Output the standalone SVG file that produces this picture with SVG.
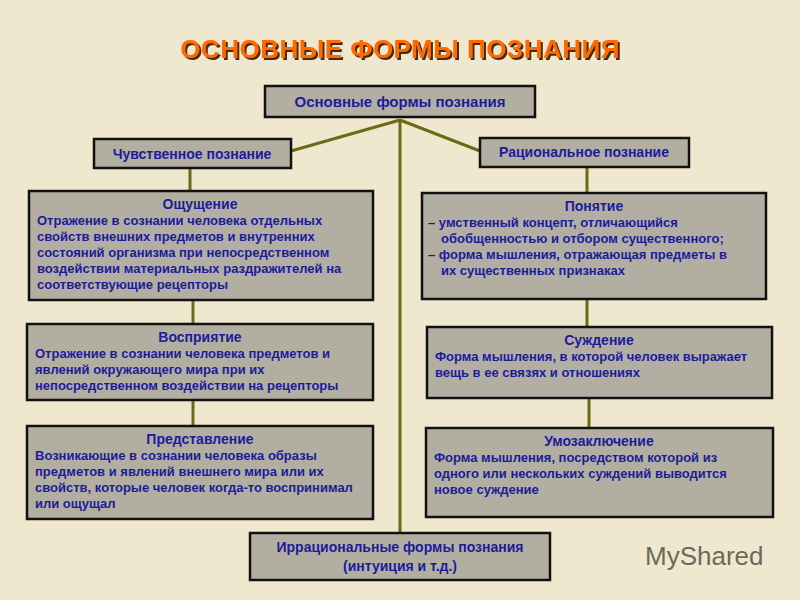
<svg xmlns="http://www.w3.org/2000/svg" width="800" height="600" viewBox="0 0 800 600">
<defs>
<filter id="sh" x="-10%" y="-30%" width="120%" height="160%"><feDropShadow dx="2" dy="2" stdDeviation="0.5" flood-color="#4a2a10"/></filter>
</defs>
<style>
.box{fill:#b2aea2;stroke:#111;stroke-width:2.5}
.t{font-family:"Liberation Sans",Arial,sans-serif;font-weight:bold;fill:#1c1c9a}
.h{font-size:14px}
.s{font-size:13px}
.c{stroke:#6b6b16;stroke-width:3;fill:none}
</style>
<rect width="800" height="600" fill="#efe8ce"/>
<text x="400" y="58" text-anchor="middle" font-family="'Liberation Sans',Arial,sans-serif" font-weight="bold" font-size="26" letter-spacing="0.5" fill="#ff6a00" filter="url(#sh)">ОСНОВНЫЕ ФОРМЫ ПОЗНАНИЯ</text>
<g id="connectors">
<path class="c" d="M400 120 L291 151 M400 120 L480 151 M400 120 V533 M190 168 V191 M193 300 V324 M193 400 V426 M587 167 V193 M587 299 V327 M589 398 V428"/>
</g>
<g id="root"><rect class="box" x="265" y="86" width="270" height="31"/><text class="t" x="400" y="107" text-anchor="middle" font-size="15">Основные формы познания</text></g>
<g id="sens"><rect class="box" x="94" y="139" width="197" height="29"/><text class="t h" x="192" y="159" text-anchor="middle">Чувственное познание</text></g>
<g id="rat"><rect class="box" x="480" y="138" width="209" height="29"/><text class="t h" x="584" y="157" text-anchor="middle">Рациональное познание</text></g>
<g id="oshch"><rect class="box" x="29" y="191" width="344" height="109"/>
<text class="t h" x="200" y="209" text-anchor="middle">Ощущение</text>
<text class="t s"><tspan x="37" y="225">Отражение в сознании человека отдельных</tspan><tspan x="37" y="241">свойств внешних предметов и внутренних</tspan><tspan x="37" y="257">состояний организма при непосредственном</tspan><tspan x="37" y="273">воздействии материальных раздражителей на</tspan><tspan x="37" y="289">соответствующие рецепторы</tspan></text></g>
<g id="vospr"><rect class="box" x="27" y="324" width="346" height="76"/>
<text class="t h" x="200" y="342" text-anchor="middle">Восприятие</text>
<text class="t s"><tspan x="35" y="358">Отражение в сознании человека предметов и</tspan><tspan x="35" y="374">явлений окружающего мира при их</tspan><tspan x="35" y="390">непосредственном воздействии на рецепторы</tspan></text></g>
<g id="predst"><rect class="box" x="27" y="426" width="346" height="93"/>
<text class="t h" x="200" y="444" text-anchor="middle">Представление</text>
<text class="t s"><tspan x="35" y="460">Возникающие в сознании человека образы</tspan><tspan x="35" y="476">предметов и явлений внешнего мира или их</tspan><tspan x="35" y="492">свойств, которые человек когда-то воспринимал</tspan><tspan x="35" y="508">или ощущал</tspan></text></g>
<g id="ponyatie"><rect class="box" x="422" y="193" width="344" height="106"/>
<text class="t h" x="594" y="211" text-anchor="middle">Понятие</text>
<text class="t s"><tspan x="428" y="227">– умственный концепт, отличающийся</tspan><tspan x="441" y="243">обобщенностью и отбором существенного;</tspan><tspan x="428" y="259">– форма мышления, отражающая предметы в</tspan><tspan x="441" y="275">их существенных признаках</tspan></text></g>
<g id="suzhd"><rect class="box" x="427" y="327" width="345" height="71"/>
<text class="t h" x="599" y="345" text-anchor="middle">Суждение</text>
<text class="t s"><tspan x="435" y="361">Форма мышления, в которой человек выражает</tspan><tspan x="435" y="377">вещь в ее связях и отношениях</tspan></text></g>
<g id="umoz"><rect class="box" x="426" y="428" width="347" height="89"/>
<text class="t h" x="599" y="446" text-anchor="middle">Умозаключение</text>
<text class="t s"><tspan x="434" y="462">Форма мышления, посредством которой из</tspan><tspan x="434" y="478">одного или нескольких суждений выводится</tspan><tspan x="434" y="494">новое суждение</tspan></text></g>
<g id="irr"><rect class="box" x="250" y="533" width="300" height="47"/>
<text class="t h" x="400" y="552" text-anchor="middle">Иррациональные формы познания</text>
<text class="t h" x="400" y="571" text-anchor="middle">(интуиция и т.д.)</text></g>
<text x="645" y="565" font-family="'Liberation Sans',Arial,sans-serif" font-size="26" fill="#6a6a5a">MyShared</text>
</svg>
